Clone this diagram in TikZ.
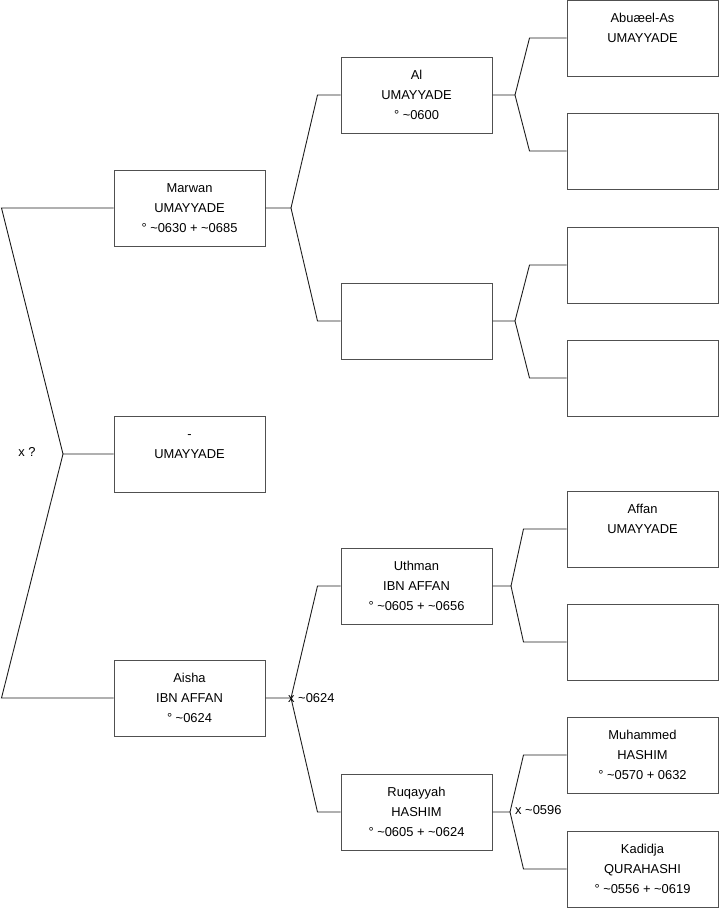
\documentclass[tikz,border=0pt]{standalone}
\usepackage{fontspec}
\setmainfont{Liberation Sans}
\usepackage{xcolor}
\usepackage{tikz}
\usetikzlibrary{positioning,calc}
\definecolor{boxline}{HTML}{505050}
\definecolor{linkline}{HTML}{1E1E1E}
\newcommand{\pers}[3]{\strut #1\\#2\\#3\strut}
\newcommand{\tl}{\textasciitilde}

\begin{document}
\begin{tikzpicture}[
    x=1pt, y=-1pt,
    person/.style={rectangle, draw=boxline, line width=1pt, fill=white, align=center,
        minimum width=151pt, minimum height=76pt, inner sep=0pt,
        font=\fontsize{12.9}{20}\selectfont},
    link/.style={draw=linkline, line width=0.9pt},
    marriage/.style={font=\fontsize{12.9}{15}\selectfont, inner sep=0pt, anchor=west}
]
    \useasboundingbox (0,0) rectangle (719,908);

    % Generation 1
    \node[person] (marwan) at (189.5,208) {\pers{Marwan}{UMAYYADE}{° \tl0630 + \tl0685}};
    \node[person] (dash)   at (189.5,454) {\pers{-}{UMAYYADE}{}};
    \node[person] (aisha)  at (189.5,698) {\pers{Aisha}{IBN AFFAN}{° \tl0624}};

    % Generation 2
    \node[person] (al)       at (416.5,95)  {\pers{Al}{UMAYYADE}{° \tl0600}};
    \node[person] (empB)     at (416.5,321) {};
    \node[person] (uthman)   at (416.5,586) {\pers{Uthman}{IBN AFFAN}{° \tl0605 + \tl0656}};
    \node[person] (ruqayyah) at (416.5,812) {\pers{Ruqayyah}{HASHIM}{° \tl0605 + \tl0624}};

    % Generation 3
    \node[person] (abuael)    at (642.5,38)  {\pers{Abuæel-As}{UMAYYADE}{}};
    \node[person] (empA)      at (642.5,151) {};
    \node[person] (empC)      at (642.5,265) {};
    \node[person] (empD)      at (642.5,378) {};
    \node[person] (affan)     at (642.5,529) {\pers{Affan}{UMAYYADE}{}};
    \node[person] (empE)      at (642.5,642) {};
    \node[person] (muhammed)  at (642.5,755) {\pers{Muhammed}{HASHIM}{° \tl0570 + 0632}};
    \node[person] (kadidja)   at (642.5,869) {\pers{Kadidja}{QURAHASHI}{° \tl0556 + \tl0619}};

    % Fork junctions
    \coordinate (jDash)  at (63,454);
    \coordinate (jMarwan) at (291,208);
    \coordinate (jAisha)  at (291,698);
    \coordinate (jAl)     at (515,95);
    \coordinate (jEmpB)   at (515,321);
    \coordinate (jUthman) at (511,586);
    \coordinate (jRuq)    at (510,812);

    % Spouse fork on the left
    \draw[link] (dash.west) -- (jDash) -- ([xshift=-112pt]marwan.west) -- (marwan.west);
    \draw[link] (jDash) -- ([xshift=-112pt]aisha.west) -- (aisha.west);
    \node (xq) at (27,452) {\fontsize{12.9}{15}\selectfont x ?};

    % Parent forks
    \draw[link] (marwan.east) -- (jMarwan) -- ([xshift=-23pt]al.west) -- (al.west);
    \draw[link] (jMarwan) -- ([xshift=-23pt]empB.west) -- (empB.west);

    \draw[link] (aisha.east) -- (jAisha) -- ([xshift=-23pt]uthman.west) -- (uthman.west);
    \draw[link] (jAisha) -- ([xshift=-23pt]ruqayyah.west) -- (ruqayyah.west);
    \node[marriage] (xAisha) at (288,698) {x \tl0624};

    \draw[link] (al.east) -- (jAl) -- ([xshift=-37pt]abuael.west) -- (abuael.west);
    \draw[link] (jAl) -- ([xshift=-37pt]empA.west) -- (empA.west);

    \draw[link] (empB.east) -- (jEmpB) -- ([xshift=-37pt]empC.west) -- (empC.west);
    \draw[link] (jEmpB) -- ([xshift=-37pt]empD.west) -- (empD.west);

    \draw[link] (uthman.east) -- (jUthman) -- ([xshift=-43pt]affan.west) -- (affan.west);
    \draw[link] (jUthman) -- ([xshift=-43pt]empE.west) -- (empE.west);

    \draw[link] (ruqayyah.east) -- (jRuq) -- ([xshift=-43pt]muhammed.west) -- (muhammed.west);
    \draw[link] (jRuq) -- ([xshift=-43pt]kadidja.west) -- (kadidja.west);
    \node[marriage] (xRuq) at (515,810) {x \tl0596};
\end{tikzpicture}
\end{document}
